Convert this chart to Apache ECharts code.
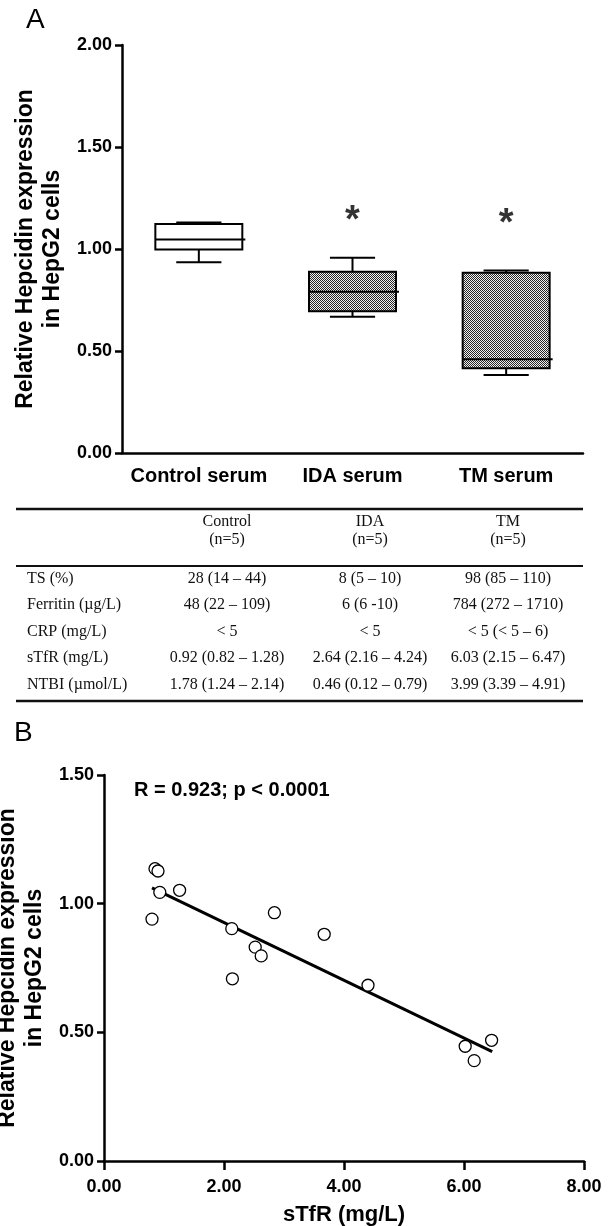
<!DOCTYPE html>
<html>
<head>
<meta charset="utf-8">
<script src="https://cdn.jsdelivr.net/npm/echarts@6/dist/echarts.min.js"></script>
<style>
html, body { margin: 0; padding: 0; background: #fff; }
#main { width: 614px; height: 1226px; }
</style>
</head>
<body>
<div id="main"></div>
<script>
// panel A: box plots
var groups = ['Control serum', 'IDA serum', 'TM serum'];
var boxMin = [0.935, 0.668, 0.382];
var boxQ1 = [0.998, 0.695, 0.415];
var boxMedian = [1.047, 0.790, 0.460];
var boxQ3 = [1.122, 0.888, 0.884];
var boxMax = [1.130, 0.957, 0.894];
var starValues = [null, 1.135, 1.12];

// table
var tableHeads = ['Control\n(n=5)', 'IDA\n(n=5)', 'TM\n(n=5)'];
var tableRows = ['TS (%)', 'Ferritin (\u00b5g/L)', 'CRP (mg/L)', 'sTfR (mg/L)', 'NTBI (\u00b5mol/L)'];
var controlCells = ['28 (14 \u2013 44)', '48 (22 \u2013 109)', '< 5', '0.92 (0.82 \u2013 1.28)', '1.78 (1.24 \u2013 2.14)'];
var idaCells = ['8 (5 \u2013 10)', '6 (6 -10)', '< 5', '2.64 (2.16 \u2013 4.24)', '0.46 (0.12 \u2013 0.79)'];
var tmCells = ['98 (85 \u2013 110)', '784 (272 \u2013 1710)', '< 5 (< 5 \u2013 6)', '6.03 (2.15 \u2013 6.47)', '3.99 (3.39 \u2013 4.91)'];

// panel B: scatter + fit line
var stfrX = [0.85, 0.90, 0.93, 1.26, 0.80, 2.13, 2.84, 2.52, 2.62, 3.67, 2.14, 4.40, 6.02, 6.17, 6.46];
var hepcY = [1.136, 1.127, 1.044, 1.052, 0.940, 0.903, 0.965, 0.831, 0.797, 0.881, 0.708, 0.683, 0.446, 0.390, 0.469];
var fitX = [0.80, 6.47];
var fitY = [1.061, 0.425];

var sans = 'Liberation Sans, Arial, sans-serif';
var serif = 'Liberation Serif, Times New Roman, serif';

// checkered fill like the original
function makeHatch() {
    var c = document.createElement('canvas');
    c.width = 2;
    c.height = 2;
    var ctx = c.getContext('2d');
    ctx.fillStyle = '#f0f0f0';
    ctx.fillRect(0, 0, 2, 2);
    ctx.fillStyle = '#262626';
    ctx.fillRect(0, 0, 1, 1);
    ctx.fillRect(1, 1, 1, 1);
    return c;
}
var hatch = makeHatch();

var boxData = [];
for (var i = 0; i < groups.length; i++) {
    boxData.push([i, boxMin[i], boxQ1[i], boxMedian[i], boxQ3[i], boxMax[i]]);
}
var starData = [];
for (var i = 0; i < starValues.length; i++) {
    if (starValues[i] != null) starData.push([groups[i], starValues[i]]);
}
var pts = [];
for (var i = 0; i < stfrX.length; i++) pts.push([stfrX[i], hepcY[i]]);
var fitLine = [[fitX[0], fitY[0]], [fitX[1], fitY[1]]];

function renderBox(params, api) {
    var idx = api.value(0);
    var cx = api.coord([idx, 0])[0];
    var band = api.size([1, 0])[0];
    var half = band * 0.283;
    var cap = band * 0.147;
    var yMin = api.coord([idx, api.value(1)])[1];
    var yQ1 = api.coord([idx, api.value(2)])[1];
    var yMed = api.coord([idx, api.value(3)])[1];
    var yQ3 = api.coord([idx, api.value(4)])[1];
    var yMax = api.coord([idx, api.value(5)])[1];
    var fill = idx === 0 ? '#fff' : { image: hatch, repeat: 'repeat' };
    var ln = { stroke: '#000', lineWidth: 2 };
    return {
        type: 'group',
        children: [
            { type: 'line', shape: { x1: cx, y1: yQ3, x2: cx, y2: yMax }, style: ln },
            { type: 'line', shape: { x1: cx, y1: yQ1, x2: cx, y2: yMin }, style: ln },
            { type: 'line', shape: { x1: cx - cap, y1: yMax, x2: cx + cap, y2: yMax }, style: ln },
            { type: 'line', shape: { x1: cx - cap, y1: yMin, x2: cx + cap, y2: yMin }, style: ln },
            { type: 'rect', shape: { x: cx - half, y: yQ3, width: half * 2, height: yQ1 - yQ3 },
              style: { fill: fill, stroke: '#000', lineWidth: 2 } },
            { type: 'line', shape: { x1: cx - half, y1: yMed, x2: cx + half + 3, y2: yMed },
              style: { stroke: '#000', lineWidth: 2 } }
        ]
    };
}

// table graphics
var colX = [227, 370, 508];
var rowY0 = 578.5, rowStep = 26.5;
var tableEls = [
    { type: 'line', shape: { x1: 16, y1: 509, x2: 583, y2: 509 }, style: { stroke: '#111', lineWidth: 2.5 } },
    { type: 'line', shape: { x1: 16, y1: 566, x2: 583, y2: 566 }, style: { stroke: '#111', lineWidth: 2 } },
    { type: 'line', shape: { x1: 16, y1: 701, x2: 583, y2: 701 }, style: { stroke: '#111', lineWidth: 2.5 } }
];
var cols = [controlCells, idaCells, tmCells];
for (var c = 0; c < 3; c++) {
    tableEls.push({ type: 'text', x: colX[c], y: 531,
        style: { text: tableHeads[c], fill: '#111', fontFamily: serif, fontSize: 16, lineHeight: 18,
                 align: 'center', verticalAlign: 'middle' } });
}
for (var r = 0; r < tableRows.length; r++) {
    var yy = rowY0 + r * rowStep;
    tableEls.push({ type: 'text', x: 27, y: yy,
        style: { text: tableRows[r], fill: '#111', fontFamily: serif, fontSize: 16,
                 align: 'left', verticalAlign: 'middle' } });
    for (var c = 0; c < 3; c++) {
        tableEls.push({ type: 'text', x: colX[c], y: yy,
            style: { text: cols[c][r], fill: '#111', fontFamily: serif, fontSize: 16,
                     align: 'center', verticalAlign: 'middle' } });
    }
}
tableEls.push({ type: 'text', x: 26, y: 20,
    style: { text: 'A', fill: '#000', fontFamily: sans, fontSize: 28, align: 'left', verticalAlign: 'middle' } });
tableEls.push({ type: 'text', x: 14, y: 733,
    style: { text: 'B', fill: '#000', fontFamily: sans, fontSize: 28, align: 'left', verticalAlign: 'middle' } });
tableEls.push({ type: 'text', x: 134, y: 790,
    style: { text: 'R = 0.923; p < 0.0001', fill: '#000', fontFamily: sans, fontSize: 20, fontWeight: 'bold',
             align: 'left', verticalAlign: 'middle' } });

var axisLineStyle = { color: '#000', width: 2.5 };
var tickLabel = { color: '#000', fontFamily: sans, fontSize: 18, fontWeight: 'bold' };
var yTitle = { color: '#000', fontFamily: sans, fontSize: 23, fontWeight: 'bold', lineHeight: 27 };

var myChart = echarts.init(document.getElementById('main'), null, { renderer: 'canvas' });
var option = {
    backgroundColor: '#fff',
    animation: false,
    grid: [
        { left: 122, top: 45, width: 461, height: 408, outerBoundsMode: 'none' },
        { left: 104, top: 775, width: 480, height: 386, outerBoundsMode: 'none' }
    ],
    xAxis: [
        {
            gridIndex: 0,
            type: 'category',
            data: groups,
            axisLine: { show: true, lineStyle: axisLineStyle },
            axisTick: { show: false },
            axisLabel: { color: '#000', fontFamily: sans, fontSize: 20, fontWeight: 'bold', margin: 13, interval: 0 },
            splitLine: { show: false }
        },
        {
            gridIndex: 1,
            type: 'value',
            min: 0,
            max: 8,
            interval: 2,
            name: 'sTfR (mg/L)',
            nameLocation: 'middle',
            nameGap: 43,
            nameTextStyle: { color: '#000', fontFamily: sans, fontSize: 22, fontWeight: 'bold' },
            axisLine: { show: true, onZero: false, lineStyle: axisLineStyle },
            axisTick: { show: true, length: 9, lineStyle: { color: '#000', width: 2.5 } },
            axisLabel: Object.assign({ margin: 17, formatter: function (v) { return v.toFixed(2); } }, tickLabel),
            splitLine: { show: false }
        }
    ],
    yAxis: [
        {
            gridIndex: 0,
            type: 'value',
            min: 0,
            max: 2,
            interval: 0.5,
            name: 'Relative Hepcidin expression\nin HepG2 cells',
            nameLocation: 'middle',
            nameGap: 56,
            nameTextStyle: yTitle,
            axisLine: { show: true, onZero: false, lineStyle: axisLineStyle },
            axisTick: { show: true, length: 7, lineStyle: { color: '#000', width: 2.5 } },
            axisLabel: Object.assign({ margin: 10, formatter: function (v) { return v.toFixed(2); } }, tickLabel),
            splitLine: { show: false }
        },
        {
            gridIndex: 1,
            type: 'value',
            min: 0,
            max: 1.5,
            interval: 0.5,
            name: 'Relative Hepcidin expression\nin HepG2 cells',
            nameLocation: 'middle',
            nameGap: 56,
            nameTextStyle: yTitle,
            axisLine: { show: true, onZero: false, lineStyle: axisLineStyle },
            axisTick: { show: true, length: 7, lineStyle: { color: '#000', width: 2.5 } },
            axisLabel: Object.assign({ margin: 10, formatter: function (v) { return v.toFixed(2); } }, tickLabel),
            splitLine: { show: false }
        }
    ],
    series: [
        {
            type: 'custom',
            xAxisIndex: 0,
            yAxisIndex: 0,
            renderItem: renderBox,
            encode: { x: 0, y: [1, 2, 3, 4, 5] },
            data: boxData,
            z: 3
        },
        {
            type: 'scatter',
            xAxisIndex: 0,
            yAxisIndex: 0,
            data: starData,
            symbol: 'circle',
            symbolSize: 1,
            itemStyle: { color: 'rgba(0,0,0,0)' },
            label: {
                show: true,
                position: 'inside',
                formatter: '*',
                color: '#000',
                fontFamily: sans,
                fontSize: 38,
                fontWeight: 'bold'
            },
            silent: true
        },
        {
            type: 'line',
            xAxisIndex: 1,
            yAxisIndex: 1,
            data: fitLine,
            symbol: 'none',
            lineStyle: { color: '#000', width: 3 },
            z: 2
        },
        {
            type: 'scatter',
            xAxisIndex: 1,
            yAxisIndex: 1,
            data: pts,
            symbol: 'circle',
            symbolSize: 12,
            itemStyle: { color: '#fff', borderColor: '#000', borderWidth: 1.3, opacity: 1 },
            z: 3
        }
    ],
    graphic: tableEls
};
myChart.setOption(option);
</script>
</body>
</html>
